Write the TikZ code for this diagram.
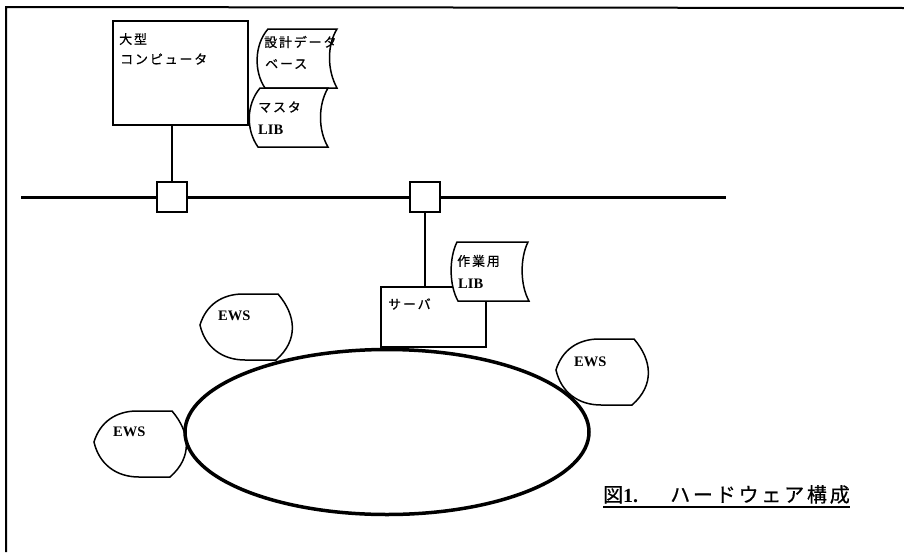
\documentclass[tikz,border=0pt]{standalone}
\usepackage{fontspec}
\setmainfont{Liberation Serif}
\newfontfamily\jp{Noto Sans CJK JP}[FakeBold=0.6]
\newfontfamily\jpsp{Noto Sans CJK JP}[LetterSpace=14,FakeBold=0.6]
\usetikzlibrary{shapes.geometric}
\tikzset{
  box/.style={draw,line width=1.6pt,fill=white,inner sep=0},
  jlabel/.style={anchor=west,inner sep=0,font=\jpsp\fontsize{13}{15}\selectfont},
  elabel/.style={anchor=west,inner sep=0,font=\bfseries\fontsize{14.5}{16}\selectfont},
  docshape/.style={draw,line width=1.5pt,fill=white},
  wire/.style={line width=1.6pt},
  ews/.pic={\draw[line width=1.5pt] (0,0) .. controls (6,-20) and (22,-31) .. (43,-31) -- (78,-31) .. controls (96,-10) and (99,15) .. (76,35) -- (45,35) .. controls (22,35) and (5,22) .. (0,0) -- cycle;}
}
\begin{document}
\begin{tikzpicture}[x=1pt,y=-1pt]
\useasboundingbox (0,0) rectangle (904,552);
% frame
\draw[line width=2pt] (6,552) -- (6,7) -- (904,8);
% bus
\coordinate (busL) at (21,197);
\coordinate (busR) at (726,197);
\draw[line width=3pt] (busL) -- (busR);
% host
\node[box,minimum width=135pt,minimum height=104pt,anchor=north west] (host) at (112,20) {};
\node[jlabel] (hostA) at (119,39) {大型};
\node[jlabel] (hostB) at (120,59) {コンピュータ};
% hubs
\node[box,minimum size=30pt] (hub1) at (172,197) {};
\node[box,minimum size=30pt] (hub2) at (425,197) {};
% server
\node[box,minimum width=105pt,minimum height=60pt,anchor=north west] (server) at (380,286) {};
\node[jlabel] (servert) at (388,304) {サーバ};
\draw[wire] (host.south -| hub1.north) -- (hub1.north);
\draw[wire] (hub2.south) -- (hub2.south |- server.north);
% documents
\draw[docshape] (268,29) -- (337,29) .. controls (327,45) and (327,70) .. (337,88) -- (265,88) .. controls (254,72) and (254,45) .. (268,29) -- cycle;
\node[jlabel] (dbA) at (264,42) {設計データ};
\node[jlabel] (dbB) at (265,64) {ベース};
\draw[docshape] (260,88) -- (328,88) .. controls (318,105) and (318,130) .. (328,147) -- (258,147) .. controls (246,130) and (246,105) .. (260,88) -- cycle;
\node[jlabel] (mA) at (258,107) {マスタ};
\node[elabel] (mB) at (258,130) {LIB};
\draw[docshape] (457,242) -- (528,242) .. controls (520,258) and (520,285) .. (529,301) -- (458,301) .. controls (449,285) and (449,258) .. (457,242) -- cycle;
\node[jlabel] (wA) at (457,261) {作業用};
\node[elabel] (wB) at (458,284) {LIB};
% ring
\node[draw,ellipse,line width=3.5pt,minimum width=404pt,minimum height=165pt,inner sep=0] (ring) at (387,432) {};
% EWS
\pic at (200,325) {ews};
\node[elabel] (ews1) at (218,316) {EWS};
\pic at (94,442) {ews};
\node[elabel] (ews2) at (113,432) {EWS};
\pic at (556,370) {ews};
\node[elabel] (ews3) at (574,362) {EWS};
% caption
\node[anchor=base west,inner sep=0] (cap) at (603,502) {{\jp\fontsize{20}{22}\selectfont 図}{\bfseries\fontsize{20}{22}\selectfont 1.}\hspace{32pt}{\jpsp\fontsize{20}{22}\selectfont ハードウェア構成}};
\draw[line width=1.6pt] ([yshift=-5pt]cap.base west) -- ([yshift=-5pt]cap.base east);
\end{tikzpicture}
\end{document}
